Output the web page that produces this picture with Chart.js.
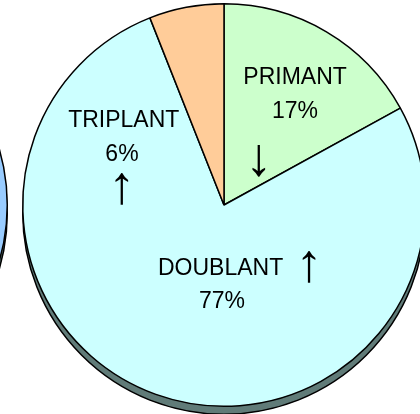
<!DOCTYPE html>
<html>
<head>
<meta charset="utf-8">
<script src="https://cdn.jsdelivr.net/npm/chart.js@4.4.1/dist/chart.umd.min.js"></script>
<style>
  html, body { margin: 0; padding: 0; background: #fff; overflow: hidden; }
  #wrap { position: relative; width: 420px; height: 414px; overflow: hidden; }
  #main { position: absolute; left: 0; top: 0; width: 448px; height: 414px; }
  #prev { position: absolute; left: -404px; top: 0; width: 420px; height: 414px; }
</style>
</head>
<body>
<div id="wrap">
  <div id="prev"><canvas id="prevChart"></canvas></div>
  <div id="main"><canvas id="myChart"></canvas></div>
</div>
<script>
// categories, shares (%) and trend arrows
const categories = ['PRIMANT', 'DOUBLANT', 'TRIPLANT'];
const shares = [17, 77, 6];
const trends = ['\u2193', '\u2191', '\u2191'];
const sliceColors = ['#ccffcc', '#ccffff', '#ffcc99'];

// neighbouring pie, only its edge shows on the left
const prevShares = [100];
const prevColors = ['#99ccff'];

Chart.defaults.font.family = '"Liberation Sans", Arial, sans-serif';

// flat "3D" base drawn under the pie
const depthPlugin = {
  id: 'depth',
  beforeDatasetsDraw(chart, args, opts) {
    const arc = chart.getDatasetMeta(0).data[0];
    if (!arc) return;
    const p = arc.getProps(['x', 'y', 'outerRadius'], true);
    const ctx = chart.ctx;
    ctx.save();
    ctx.beginPath();
    ctx.arc(p.x, p.y + opts.depth, p.outerRadius, 0, Math.PI * 2);
    ctx.fillStyle = opts.color;
    ctx.fill();
    ctx.lineWidth = 1.5;
    ctx.strokeStyle = '#000';
    ctx.stroke();
    ctx.restore();
  }
};

// slice labels, placed relative to the pie centre (in radius units)
const labelPlugin = {
  id: 'sliceLabels',
  afterDatasetsDraw(chart, args, opts) {
    const arc = chart.getDatasetMeta(0).data[0];
    if (!arc) return;
    const p = arc.getProps(['x', 'y', 'outerRadius'], true);
    const r = p.outerRadius;
    const ctx = chart.ctx;
    ctx.save();
    ctx.fillStyle = '#000';
    ctx.textAlign = 'center';
    ctx.textBaseline = 'middle';
    opts.layout.forEach(function(l) {
      const i = l.index;
      const items = {
        name: categories[i],
        pct: shares[i] + '%',
        arrow: trends[i]
      };
      Object.keys(l.at).forEach(function(k) {
        const pos = l.at[k];
        ctx.font = k === 'arrow' ? opts.arrowFont : opts.font;
        ctx.fillText(items[k], p.x + pos[0] * r, p.y + pos[1] * r);
      });
    });
    ctx.restore();
  }
};

function pieOptions() {
  return {
    responsive: true,
    maintainAspectRatio: false,
    animation: false,
    events: [],
    layout: { padding: { top: 3, bottom: 7, left: 0, right: 0 } },
    plugins: {
      legend: { display: false },
      tooltip: { enabled: false },
      depth: { depth: 8, color: '#607b78' }
    }
  };
}

new Chart(document.getElementById('prevChart').getContext('2d'), {
  type: 'pie',
  data: {
    labels: ['prev'],
    datasets: [{
      data: prevShares,
      backgroundColor: prevColors,
      borderColor: '#000',
      borderWidth: 1.5,
      hoverBorderWidth: 1.5
    }]
  },
  options: pieOptions(),
  plugins: [depthPlugin]
});

const mainOpts = pieOptions();
mainOpts.plugins.sliceLabels = {
  font: '23px "Liberation Sans", Arial, sans-serif',
  arrowFont: '54px "Liberation Sans", Arial, sans-serif',
  layout: [
    { index: 0, at: { name: [0.353, -0.632], pct: [0.353, -0.463], arrow: [0.174, -0.222] } },
    { index: 2, at: { name: [-0.498, -0.418], pct: [-0.507, -0.249], arrow: [-0.507, -0.082] } },
    { index: 1, at: { name: [-0.017, 0.318], arrow: [0.423, 0.303], pct: [-0.01, 0.478] } }
  ]
};

new Chart(document.getElementById('myChart').getContext('2d'), {
  type: 'pie',
  data: {
    labels: categories,
    datasets: [{
      data: shares,
      backgroundColor: sliceColors,
      borderColor: '#000',
      borderWidth: 1.5,
      hoverBorderWidth: 1.5
    }]
  },
  options: mainOpts,
  plugins: [depthPlugin, labelPlugin]
});
</script>
</body>
</html>
